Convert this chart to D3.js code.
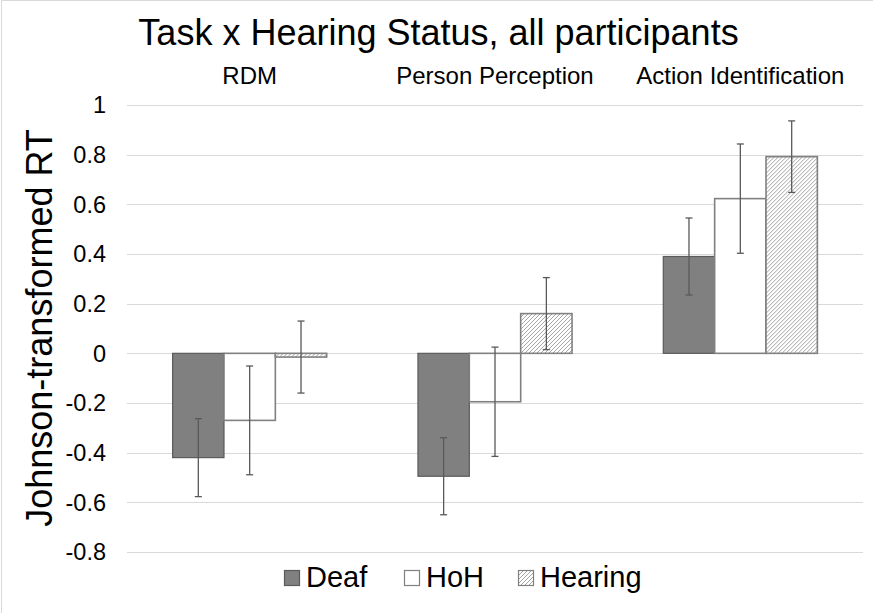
<!DOCTYPE html>
<html>
<head>
<meta charset="utf-8">
<script src="https://cdn.jsdelivr.net/npm/d3@7"></script>
<style>
  html, body { margin: 0; padding: 0; background: #fff; }
  svg { display: block; font-family: "Liberation Sans", Arial, Helvetica, sans-serif; }
</style>
</head>
<body>
<svg id="chart" width="873" height="613"></svg>
<script>
// ---- data ----
const categories = ["RDM", "Person Perception", "Action Identification"];
const seriesNames = ["Deaf", "HoH", "Hearing"];
const deafValues = [-0.42, -0.495, 0.39];
const hohValues = [-0.27, -0.195, 0.623];
const hearingValues = [-0.015, 0.16, 0.792];
const deafErrors = [0.157, 0.155, 0.155];
const hohErrors = [0.219, 0.22, 0.22];
const hearingErrors = [0.145, 0.145, 0.144];
const yTicks = [-0.8, -0.6, -0.4, -0.2, 0, 0.2, 0.4, 0.6, 0.8, 1];
const titleText = "Task x Hearing Status, all participants";
const yLabelText = "Johnson-transformed RT";

(function () {
const seriesValues = [deafValues, hohValues, hearingValues];
const seriesErrors = [deafErrors, hohErrors, hearingErrors];

const svg = d3.select("#chart");
const W = 873, H = 613;
const plotLeft = 127, plotRight = 863, plotTop = 105, plotBottom = 552;

// pattern for hatch
const defs = svg.append("defs");
const pat = defs.append("pattern")
  .attr("id", "hatch")
  .attr("patternUnits", "userSpaceOnUse")
  .attr("width", 4).attr("height", 4);
pat.append("rect").attr("width", 4).attr("height", 4).attr("fill", "#fff");
pat.append("path")
  .attr("d", "M-1,1 l2,-2 M0,4 l4,-4 M3,5 l2,-2")
  .attr("stroke", "#8c8c8c").attr("stroke-width", 0.8);

// frame (top and left edges visible)
svg.append("line").attr("x1", 1.5).attr("x2", W).attr("y1", 0.5).attr("y2", 0.5).attr("stroke", "#d9d9d9");
svg.append("line").attr("x1", 1.5).attr("x2", 1.5).attr("y1", 0.5).attr("y2", H).attr("stroke", "#d9d9d9");

const y = d3.scaleLinear().domain([-0.8, 1]).range([plotBottom, plotTop]);
const x0 = d3.scaleBand().domain(categories).range([plotLeft, plotRight]).paddingInner(0.372).paddingOuter(0.186);
const x1 = d3.scaleBand().domain(seriesNames).range([0, x0.bandwidth()]).padding(0);

// gridlines
svg.append("g").selectAll("line").data(yTicks).join("line")
  .attr("x1", plotLeft).attr("x2", plotRight)
  .attr("y1", d => Math.round(y(d)) + 0.5).attr("y2", d => Math.round(y(d)) + 0.5)
  .attr("stroke", "#d9d9d9").attr("stroke-width", 1);

// y axis tick labels
const yAxis = d3.axisLeft(y).tickValues(yTicks).tickSize(0).tickPadding(0)
  .tickFormat(d => String(+d.toFixed(1)));
const gy = svg.append("g").attr("transform", "translate(106,0)").call(yAxis);
gy.select(".domain").remove();
gy.selectAll("text")
  .attr("font-size", 23.5).attr("fill", "#000")
  .attr("font-family", '"Liberation Sans", Arial, sans-serif')
  .attr("dy", "0.33em");

// bars
const fills = ["#808080", "#ffffff", "url(#hatch)"];
const strokes = ["#5a5a5a", "#808080", "#808080"];
const strokeW = [1.2, 1.6, 1.6];

const groups = svg.append("g").selectAll("g").data(categories).join("g")
  .attr("transform", d => `translate(${x0(d)},0)`);

groups.each(function(cat, ci) {
  const g = d3.select(this);
  seriesNames.forEach((s, si) => {
    const v = seriesValues[si][ci];
    g.append("rect")
      .attr("x", x1(s))
      .attr("width", x1.bandwidth())
      .attr("y", y(Math.max(0, v)))
      .attr("height", Math.abs(y(v) - y(0)))
      .attr("fill", fills[si])
      .attr("stroke", strokes[si])
      .attr("stroke-width", strokeW[si]);
  });
  seriesNames.forEach((s, si) => {
    const v = seriesValues[si][ci];
    const e = seriesErrors[si][ci];
    const cx = x1(s) + x1.bandwidth() / 2;
    const eg = g.append("g").attr("stroke", "#595959").attr("stroke-width", 1.3);
    eg.append("line").attr("x1", cx).attr("x2", cx).attr("y1", y(v + e)).attr("y2", y(v - e));
    eg.append("line").attr("x1", cx - 3.5).attr("x2", cx + 3.5).attr("y1", y(v + e)).attr("y2", y(v + e));
    eg.append("line").attr("x1", cx - 3.5).attr("x2", cx + 3.5).attr("y1", y(v - e)).attr("y2", y(v - e));
  });
});

// category labels on top
svg.append("g").selectAll("text").data(categories).join("text")
  .attr("x", d => x0(d) + x0.bandwidth() / 2)
  .attr("y", 84)
  .attr("text-anchor", "middle")
  .attr("font-size", 24)
  .attr("fill", "#000")
  .text(d => d);

// title
svg.append("text")
  .attr("x", 438.5).attr("y", 45)
  .attr("text-anchor", "middle")
  .attr("font-size", 36)
  .attr("fill", "#000")
  .text(titleText);

// y label
svg.append("text")
  .attr("transform", "translate(52,328) rotate(-90)")
  .attr("text-anchor", "middle")
  .attr("font-size", 36)
  .attr("fill", "#000")
  .text(yLabelText);

// legend
const legendX = [284, 404, 518];
const lg = svg.append("g").selectAll("g").data(seriesNames).join("g")
  .attr("transform", (d, i) => `translate(${legendX[i]},0)`);
lg.append("rect")
  .attr("x", 0.5).attr("y", 570.5).attr("width", 15).attr("height", 15)
  .attr("fill", (d, i) => fills[i])
  .attr("stroke", (d, i) => strokes[i])
  .attr("stroke-width", 1.2);
lg.append("text")
  .attr("x", 22).attr("y", 587)
  .attr("font-size", 29)
  .attr("fill", "#000")
  .text(d => d);
})();
</script>
</body>
</html>
